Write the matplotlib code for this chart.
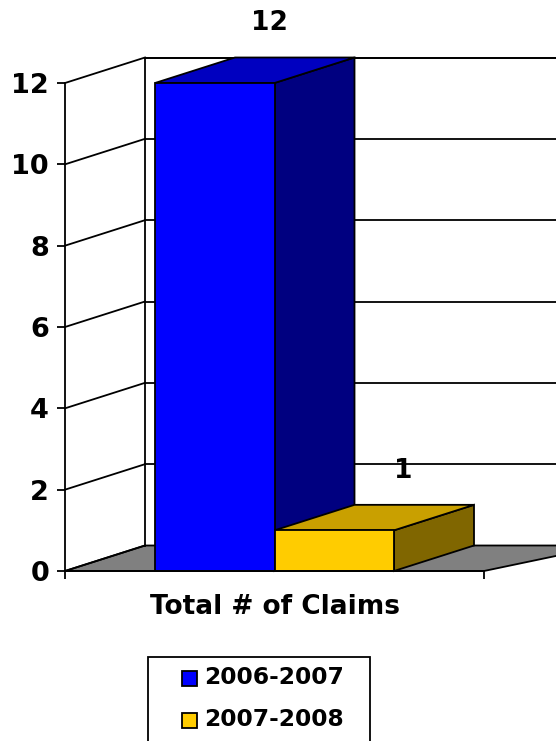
#!/usr/bin/env python
import matplotlib
matplotlib.use('Agg')
import matplotlib.pyplot as plt
from matplotlib.patches import Polygon, Rectangle

categories = ['Total # of Claims']
seasons = ['2006-2007', '2007-2008']
claims = [12, 1]
yticks = [0, 2, 4, 6, 8, 10, 12]

front_colors = ['#0000ff', '#ffcc00']
top_colors = ['#0000c0', '#c9a000']
side_colors = ['#000080', '#806600']

W, H = 556, 741
LW = 1.3
fig = plt.figure(figsize=(W / 100, H / 100), dpi=100)
# front plane of the 3d box, everything else is offset from this
ax = fig.add_axes([65 / W, (H - 571) / H, 419 / W, 488 / H])
ax.set_xlim(0, 1)
ax.set_ylim(0, 12)

dx = 80 / 419
dy = 25.5 / (488 / 12)
bar_start = 90 / 419
bar_w = 119.5 / 419
label_shift = [-25 / 419, -11 / 419]


def poly(pts, fc, z=2):
    ax.add_patch(Polygon(pts, closed=True, facecolor=fc, edgecolor='black',
                         linewidth=LW, clip_on=False, zorder=z))


# floor
poly([(0, 0), (dx, dy), (1 + dx + 0.1, dy), (1, 0)], '#808080', 1)

# back wall and side wall
ax.plot([dx, dx], [dy, 12 + dy], color='black', lw=LW, clip_on=False, zorder=1)
ax.plot([dx, 1.3], [12 + dy, 12 + dy], color='black', lw=LW, clip_on=False, zorder=1)
for t in yticks:
    ax.plot([0, dx], [t, t + dy], color='black', lw=LW, clip_on=False, zorder=1)
    if t > 0:
        ax.plot([dx, 1.3], [t + dy, t + dy], color='black', lw=LW, clip_on=False, zorder=1)

# bars
for i, val in enumerate(claims):
    x0 = bar_start + i * bar_w
    x1 = x0 + bar_w
    poly([(x1, 0), (x1 + dx, dy), (x1 + dx, val + dy), (x1, val)], side_colors[i], 3)
    poly([(x0, val), (x0 + dx, val + dy), (x1 + dx, val + dy), (x1, val)], top_colors[i], 3)
    ax.add_patch(Rectangle((x0, 0), bar_w, val, facecolor=front_colors[i],
                           edgecolor='black', linewidth=LW, clip_on=False, zorder=4))
    ax.text(x0 + dx + bar_w / 2 + label_shift[i], val + dy + 0.84, str(val), ha='center', va='center',
            fontsize=19, fontweight='bold', zorder=5)

ax.patch.set_visible(False)
for s in ['top', 'right']:
    ax.spines[s].set_visible(False)
for s in ['left', 'bottom']:
    ax.spines[s].set_zorder(6)
    ax.spines[s].set_linewidth(LW)
ax.set_yticks(yticks)
ax.set_xticks([0, 1])
ax.set_xticklabels(['', ''])
ax.tick_params(axis='both', length=6, width=LW, labelsize=19.5, pad=5.5)
for lab in ax.get_yticklabels():
    lab.set_fontweight('bold')
ax.text(0.5, -0.073, categories[0], transform=ax.transAxes, ha='center', va='center',
        fontsize=19, fontweight='bold')

# legend is cut off by the bottom of the picture
fig.add_artist(Rectangle((148 / W, -10 / H), 222 / W, (H - 657 + 10) / H, facecolor='white',
                         edgecolor='black', linewidth=LW, transform=fig.transFigure))
for i, s in enumerate(seasons):
    y = [678, 720][i]
    fig.add_artist(Rectangle((182 / W, (H - y - 7.5) / H), 15 / W, 15 / H, facecolor=front_colors[i],
                             edgecolor='black', linewidth=LW, transform=fig.transFigure))
    fig.text(204 / W, (H - y) / H, s, ha='left', va='center', fontsize=16.8, fontweight='bold')

fig.savefig('out.png', dpi=100)
